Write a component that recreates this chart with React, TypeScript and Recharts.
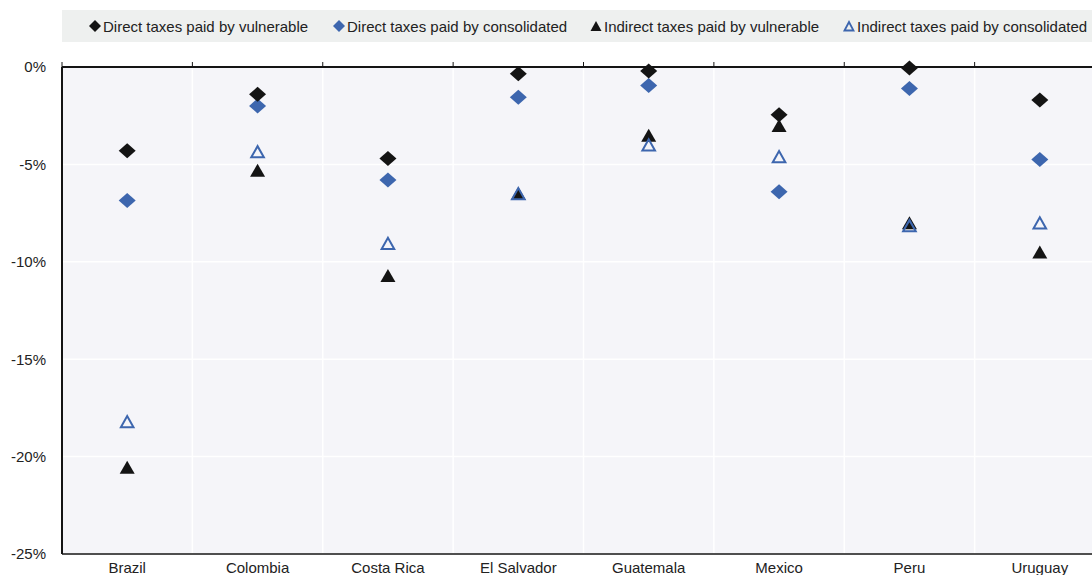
import React from "react";
import { ScatterChart, Scatter, XAxis, YAxis, CartesianGrid } from "recharts";

const categories = ["Brazil", "Colombia", "Costa Rica", "El Salvador", "Guatemala", "Mexico", "Peru", "Uruguay"];
const directVulnerable = [-4.3, -1.4, -4.7, -0.35, -0.2, -2.45, -0.05, -1.7];
const directConsolidated = [-6.85, -2.0, -5.8, -1.55, -0.95, -6.4, -1.1, -4.75];
const indirectVulnerable = [-20.55, -5.3, -10.7, -6.5, -3.5, -3.0, -8.0, -9.5];
const indirectConsolidated = [-18.2, -4.35, -9.05, -6.5, -4.0, -4.6, -8.15, -8.0];
const yTicks = [-25, -20, -15, -10, -5, 0];
const seriesNames = [
  "Direct taxes paid by vulnerable",
  "Direct taxes paid by consolidated",
  "Indirect taxes paid by vulnerable",
  "Indirect taxes paid by consolidated",
];

const BLACK = "#141414";
const BLUE = "#3d66ae";
const FONT = "'Liberation Sans', Arial, Helvetica, sans-serif";

const toData = (arr: number[]) => categories.map((c, i) => ({ x: i, y: arr[i], name: c }));
const centerTicks = categories.map((_, i) => i);
const boundaryTicks = [...categories.map((_, i) => i - 0.5), categories.length - 0.5];

const Diamond = (color: string) => (props: any) => {
  const { cx, cy } = props;
  const w = 8.5, h = 7.5;
  return <polygon points={`${cx - w},${cy} ${cx},${cy - h} ${cx + w},${cy} ${cx},${cy + h}`} fill={color} />;
};
const FilledTri = (props: any) => {
  const { cx, cy } = props;
  const w = 7.5, h = 6.5;
  return <polygon points={`${cx - w},${cy + h} ${cx},${cy - h} ${cx + w},${cy + h}`} fill={BLACK} />;
};
const OpenTri = (props: any) => {
  const { cx, cy } = props;
  const w = 6.3, h = 5.6;
  return (
    <polygon
      points={`${cx - w},${cy + h} ${cx},${cy - h} ${cx + w},${cy + h}`}
      fill="none"
      stroke={BLUE}
      strokeWidth={2}
      strokeLinejoin="miter"
    />
  );
};

const legendMarkers = [
  <polygon key="a" points="0,6 6,0 12,6 6,12" fill={BLACK} />,
  <polygon key="b" points="0,6 6,0 12,6 6,12" fill={BLUE} />,
  <polygon key="c" points="0.5,11 6,1 11.5,11" fill={BLACK} />,
  <polygon key="d" points="1.5,10.5 6,2 10.5,10.5" fill="none" stroke={BLUE} strokeWidth={1.8} />,
];
const legendX = [89, 333, 590, 843];

export default function App() {
  return (
    <div style={{ position: "absolute", left: 0, top: 0, width: 1110, height: 575, fontFamily: FONT, overflow: "hidden" }}>
      <div style={{ position: "absolute", left: 62, top: 10, width: 1060, height: 32, background: "#eef0ef" }} />
      {seriesNames.map((n, i) => (
        <div
          key={n}
          style={{
            position: "absolute",
            left: legendX[i],
            top: 10,
            height: 32,
            display: "flex",
            alignItems: "center",
            fontSize: 15,
            color: "#222",
            whiteSpace: "nowrap",
          }}
        >
          <svg width={12} height={12} style={{ marginRight: 2 }}>
            {legendMarkers[i]}
          </svg>
          <span>{n}</span>
        </div>
      ))}
      <div style={{ position: "absolute", left: 0, top: 0 }}>
        <ScatterChart width={1110} height={575} margin={{ top: 62, right: 5, bottom: 0, left: 0 }}>
          <CartesianGrid xAxisId="top" yAxisId="y" stroke="#ffffff" strokeWidth={1.5} fill="#f5f5f9" />
          <XAxis
            xAxisId="top"
            orientation="top"
            type="number"
            dataKey="x"
            domain={[-0.5, categories.length - 0.5]}
            ticks={boundaryTicks}
            interval={0}
            tickFormatter={() => ""}
            tickSize={5}
            height={5}
            axisLine={{ stroke: BLACK, strokeWidth: 2 }}
            tickLine={{ stroke: BLACK, strokeWidth: 1 }}
          />
          <XAxis
            xAxisId="bottom"
            orientation="bottom"
            type="number"
            dataKey="x"
            domain={[-0.5, categories.length - 0.5]}
            ticks={centerTicks}
            tickFormatter={(v: number) => categories[v] ?? ""}
            interval={0}
            tickSize={0}
            tickMargin={8}
            height={21}
            axisLine={{ stroke: BLACK, strokeWidth: 1.5 }}
            tickLine={false}
            tick={{ fill: "#222", fontSize: 15, fontFamily: FONT }}
          />
          <YAxis
            yAxisId="y"
            type="number"
            dataKey="y"
            domain={[-25, 0]}
            ticks={yTicks}
            tickFormatter={(v: number) => `${v}%`}
            width={62}
            tickSize={0}
            tickMargin={16}
            axisLine={{ stroke: BLACK, strokeWidth: 2 }}
            tickLine={false}
            tick={{ fill: "#222", fontSize: 15, fontFamily: FONT }}
          />
          <Scatter xAxisId="top" yAxisId="y" name={seriesNames[2]} data={toData(indirectVulnerable)} shape={FilledTri} isAnimationActive={false} />
          <Scatter xAxisId="top" yAxisId="y" name={seriesNames[3]} data={toData(indirectConsolidated)} shape={OpenTri} isAnimationActive={false} />
          <Scatter xAxisId="bottom" yAxisId="y" name={seriesNames[1]} data={toData(directConsolidated)} shape={Diamond(BLUE)} isAnimationActive={false} />
          <Scatter xAxisId="bottom" yAxisId="y" name={seriesNames[0]} data={toData(directVulnerable)} shape={Diamond(BLACK)} isAnimationActive={false} />
        </ScatterChart>
      </div>
    </div>
  );
}
